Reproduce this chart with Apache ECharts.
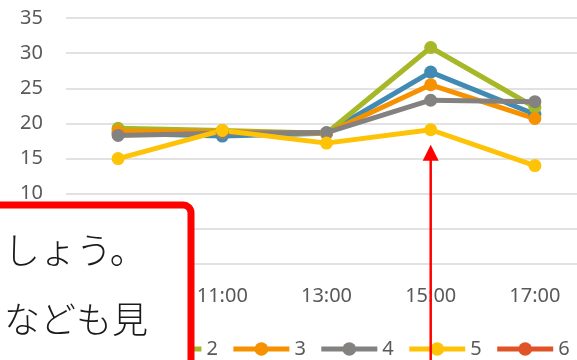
<!DOCTYPE html>
<html>
<head>
<meta charset="utf-8">
<script src="https://cdn.jsdelivr.net/npm/echarts@6/dist/echarts.min.js"></script>
<style>
  html, body { margin: 0; padding: 0; background: #fff; }
  #chart { width: 577px; height: 360px; }
</style>
</head>
<body>
<div id="chart"></div>
<script>
// Temperature readings through the day, one line per group
const times = ['9:00', '11:00', '13:00', '15:00', '17:00'];
const seriesNames = ['1', '2', '3', '4', '5', '6'];
const s1 = [18.6, 18.2, 18.6, 27.3, 21.3];
const s2 = [19.3, 19.0, 18.6, 30.8, 22.3];
const s3 = [18.9, 18.8, 18.6, 25.5, 20.7];
const s4 = [18.3, 18.6, 18.7, 23.3, 23.1];
const s5 = [15.0, 19.0, 17.2, 19.1, 14.0];
const s6 = [null, null, null, null, null];
const yTicks = [0, 5, 10, 15, 20, 25, 30, 35];
const colors = ['#418AB3', '#A6B727', '#F69200', '#838281', '#FEC306', '#DF5327'];
const noteLines = ['しょう。', 'なども見'];

const allValues = [s1, s2, s3, s4, s5, s6];
const labelFont = 'Noto Sans';
const chart = echarts.init(document.getElementById('chart'), null, { renderer: 'canvas' });

const series = seriesNames.map((name, i) => ({
  name: name,
  type: 'line',
  data: allValues[i],
  symbol: 'circle',
  symbolSize: 13,
  showAllSymbol: true,
  lineStyle: { width: 5, color: colors[i] },
  itemStyle: { color: colors[i] },
  emphasis: { disabled: true },
  animation: false
}));

chart.setOption({
  animation: false,
  grid: { left: 66, top: 18, width: 521, height: 246, outerBoundsMode: 'none', containLabel: false },
  xAxis: {
    type: 'category',
    data: times,
    boundaryGap: true,
    axisLine: { show: false },
    axisTick: { show: false },
    axisLabel: { color: '#595959', fontSize: 20, fontFamily: labelFont, margin: 22 }
  },
  yAxis: {
    type: 'value',
    min: yTicks[0],
    max: yTicks[yTicks.length - 1],
    interval: yTicks[1] - yTicks[0],
    axisLine: { show: false },
    axisTick: { show: false },
    axisLabel: { color: '#595959', fontSize: 20, fontFamily: labelFont, margin: 23 },
    splitLine: { lineStyle: { color: '#D9D9D9', width: 1.5 } }
  },
  legend: {
    data: seriesNames,
    left: 55,
    top: 339,
    width: 700,
    itemWidth: 56,
    itemHeight: 17,
    itemGap: 13,
    padding: 0,
    lineStyle: { width: 5 },
    textStyle: { color: '#595959', fontSize: 20, fontFamily: labelFont },
    selectedMode: false
  },
  series: series
});

// Arrow pointing up at the 15:00 reading, and the callout box on the lower left
const peakIdx = 3;
const ax = chart.convertToPixel({ xAxisIndex: 0 }, times[peakIdx]);
const tipY = chart.convertToPixel({ yAxisIndex: 0 }, s5[peakIdx]) + 15;

chart.setOption({
  graphic: [
    {
      type: 'line', z: 100,
      shape: { x1: ax, y1: tipY + 14, x2: ax, y2: 365 },
      style: { stroke: '#FF0000', lineWidth: 2.5 }
    },
    {
      type: 'polygon', z: 100,
      shape: { points: [[ax, tipY], [ax - 8, tipY + 16], [ax + 8, tipY + 16]] },
      style: { fill: '#FF0000' }
    },
    {
      type: 'rect', z: 110,
      shape: { x: -20, y: 205, width: 211, height: 200, r: [0, 8, 0, 0] },
      style: { fill: '#FFFFFF', stroke: '#FF0000', lineWidth: 7 }
    },
    {
      type: 'text', z: 111,
      x: 4, y: 250,
      style: {
        text: noteLines[0], fill: '#1A1A1A',
        font: '300 36px "Noto Sans CJK JP"', verticalAlign: 'middle', align: 'left'
      }
    },
    {
      type: 'text', z: 111,
      x: 4, y: 319,
      style: {
        text: noteLines[1], fill: '#1A1A1A',
        font: '300 36px "Noto Sans CJK JP"', verticalAlign: 'middle', align: 'left'
      }
    }
  ]
});
</script>
</body>
</html>
